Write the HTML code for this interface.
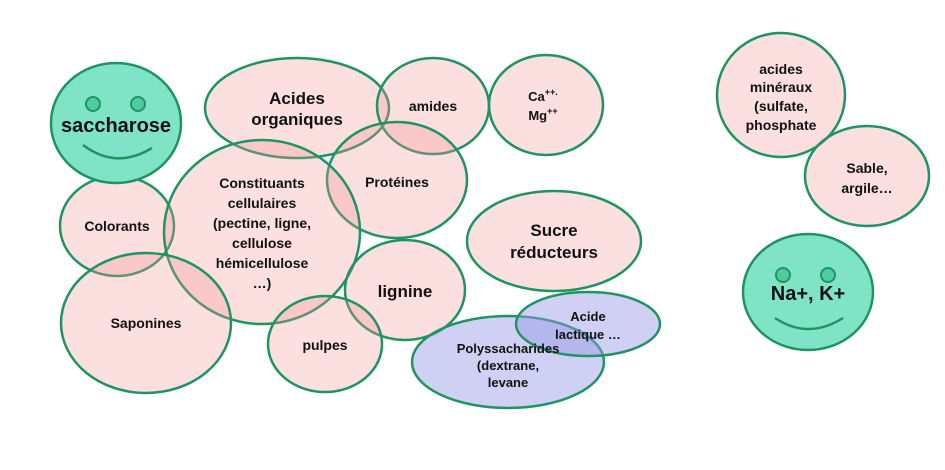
<!DOCTYPE html>
<html><head><meta charset="utf-8"><style>
html,body{margin:0;padding:0;background:#fff;}
svg{display:block;}
text{font-family:"Liberation Sans",Arial,sans-serif;font-weight:bold;fill:#111;text-anchor:middle;}
</style></head><body>
<svg width="945" height="470" viewBox="0 0 945 470" xmlns="http://www.w3.org/2000/svg">
<g stroke="#1f9463" stroke-width="2.5">
<g fill="rgb(245,150,150)" fill-opacity="0.3">
<ellipse cx="297" cy="108" rx="92" ry="50"/>
<ellipse cx="433" cy="106" rx="56" ry="48"/>
<ellipse cx="546" cy="105" rx="57" ry="50"/>
<ellipse cx="397" cy="180" rx="70" ry="58"/>
<ellipse cx="117" cy="226" rx="57" ry="50"/>
<ellipse cx="262" cy="232" rx="98" ry="92"/>
<ellipse cx="146" cy="323" rx="85" ry="70"/>
<ellipse cx="405" cy="290" rx="60" ry="50"/>
<ellipse cx="325" cy="344" rx="57" ry="48"/>
<ellipse cx="554" cy="241" rx="87" ry="50"/>
<ellipse cx="781" cy="95" rx="64" ry="62"/>
<ellipse cx="867" cy="176" rx="62" ry="50"/>
</g>
<g fill="rgb(150,150,230)" fill-opacity="0.45">
<ellipse cx="508" cy="362" rx="96" ry="46"/>
<ellipse cx="588" cy="324" rx="72" ry="32"/>
</g>
<g fill="#7fe3c6">
<ellipse cx="116" cy="123" rx="65" ry="60"/>
<ellipse cx="808" cy="292" rx="65" ry="58"/>
</g>
<g fill="#4fcc9f" stroke-width="2">
<circle cx="93" cy="104" r="7"/><circle cx="138" cy="104" r="7"/>
<circle cx="783" cy="275" r="7"/><circle cx="828" cy="275" r="7"/>
</g>
<path d="M83 145 Q116 170 152 148" fill="none"/>
<path d="M775 318 Q808 340 843 318" fill="none"/>
</g>
<text x="116" y="132" font-size="20">saccharose</text>
<text x="808" y="300" font-size="20">Na+, K+</text>
<text x="297" y="104" font-size="17">Acides</text>
<text x="297" y="125" font-size="17">organiques</text>
<text x="433" y="111" font-size="14">amides</text>
<text x="543" y="101" font-size="13">Ca<tspan font-size="9" dy="-6">++.</tspan></text>
<text x="543" y="120" font-size="13">Mg<tspan font-size="9" dy="-6">++</tspan></text>
<text x="397" y="187" font-size="14">Protéines</text>
<text x="117" y="231" font-size="14">Colorants</text>
<text x="262" y="188" font-size="14">Constituants</text>
<text x="262" y="208" font-size="14">cellulaires</text>
<text x="262" y="228" font-size="14">(pectine, ligne,</text>
<text x="262" y="248" font-size="14">cellulose</text>
<text x="262" y="268" font-size="14">hémicellulose</text>
<text x="262" y="288" font-size="14">…)</text>
<text x="146" y="328" font-size="14">Saponines</text>
<text x="405" y="297" font-size="17">lignine</text>
<text x="325" y="350" font-size="14">pulpes</text>
<text x="554" y="236" font-size="17">Sucre</text>
<text x="554" y="258" font-size="17">réducteurs</text>
<text x="588" y="321" font-size="13">Acide</text>
<text x="588" y="339" font-size="13">lactique …</text>
<text x="508" y="353" font-size="13">Polyssacharides</text>
<text x="508" y="370" font-size="13">(dextrane,</text>
<text x="508" y="387" font-size="13">levane</text>
<text x="781" y="74" font-size="14">acides</text>
<text x="781" y="92" font-size="14">minéraux</text>
<text x="781" y="111" font-size="14" font-weight="normal">(sulfate,</text>
<text x="781" y="130" font-size="14" font-weight="normal">phosphate</text>
<text x="867" y="173" font-size="14">Sable,</text>
<text x="867" y="193" font-size="14">argile…</text>
</svg>
</body></html>
